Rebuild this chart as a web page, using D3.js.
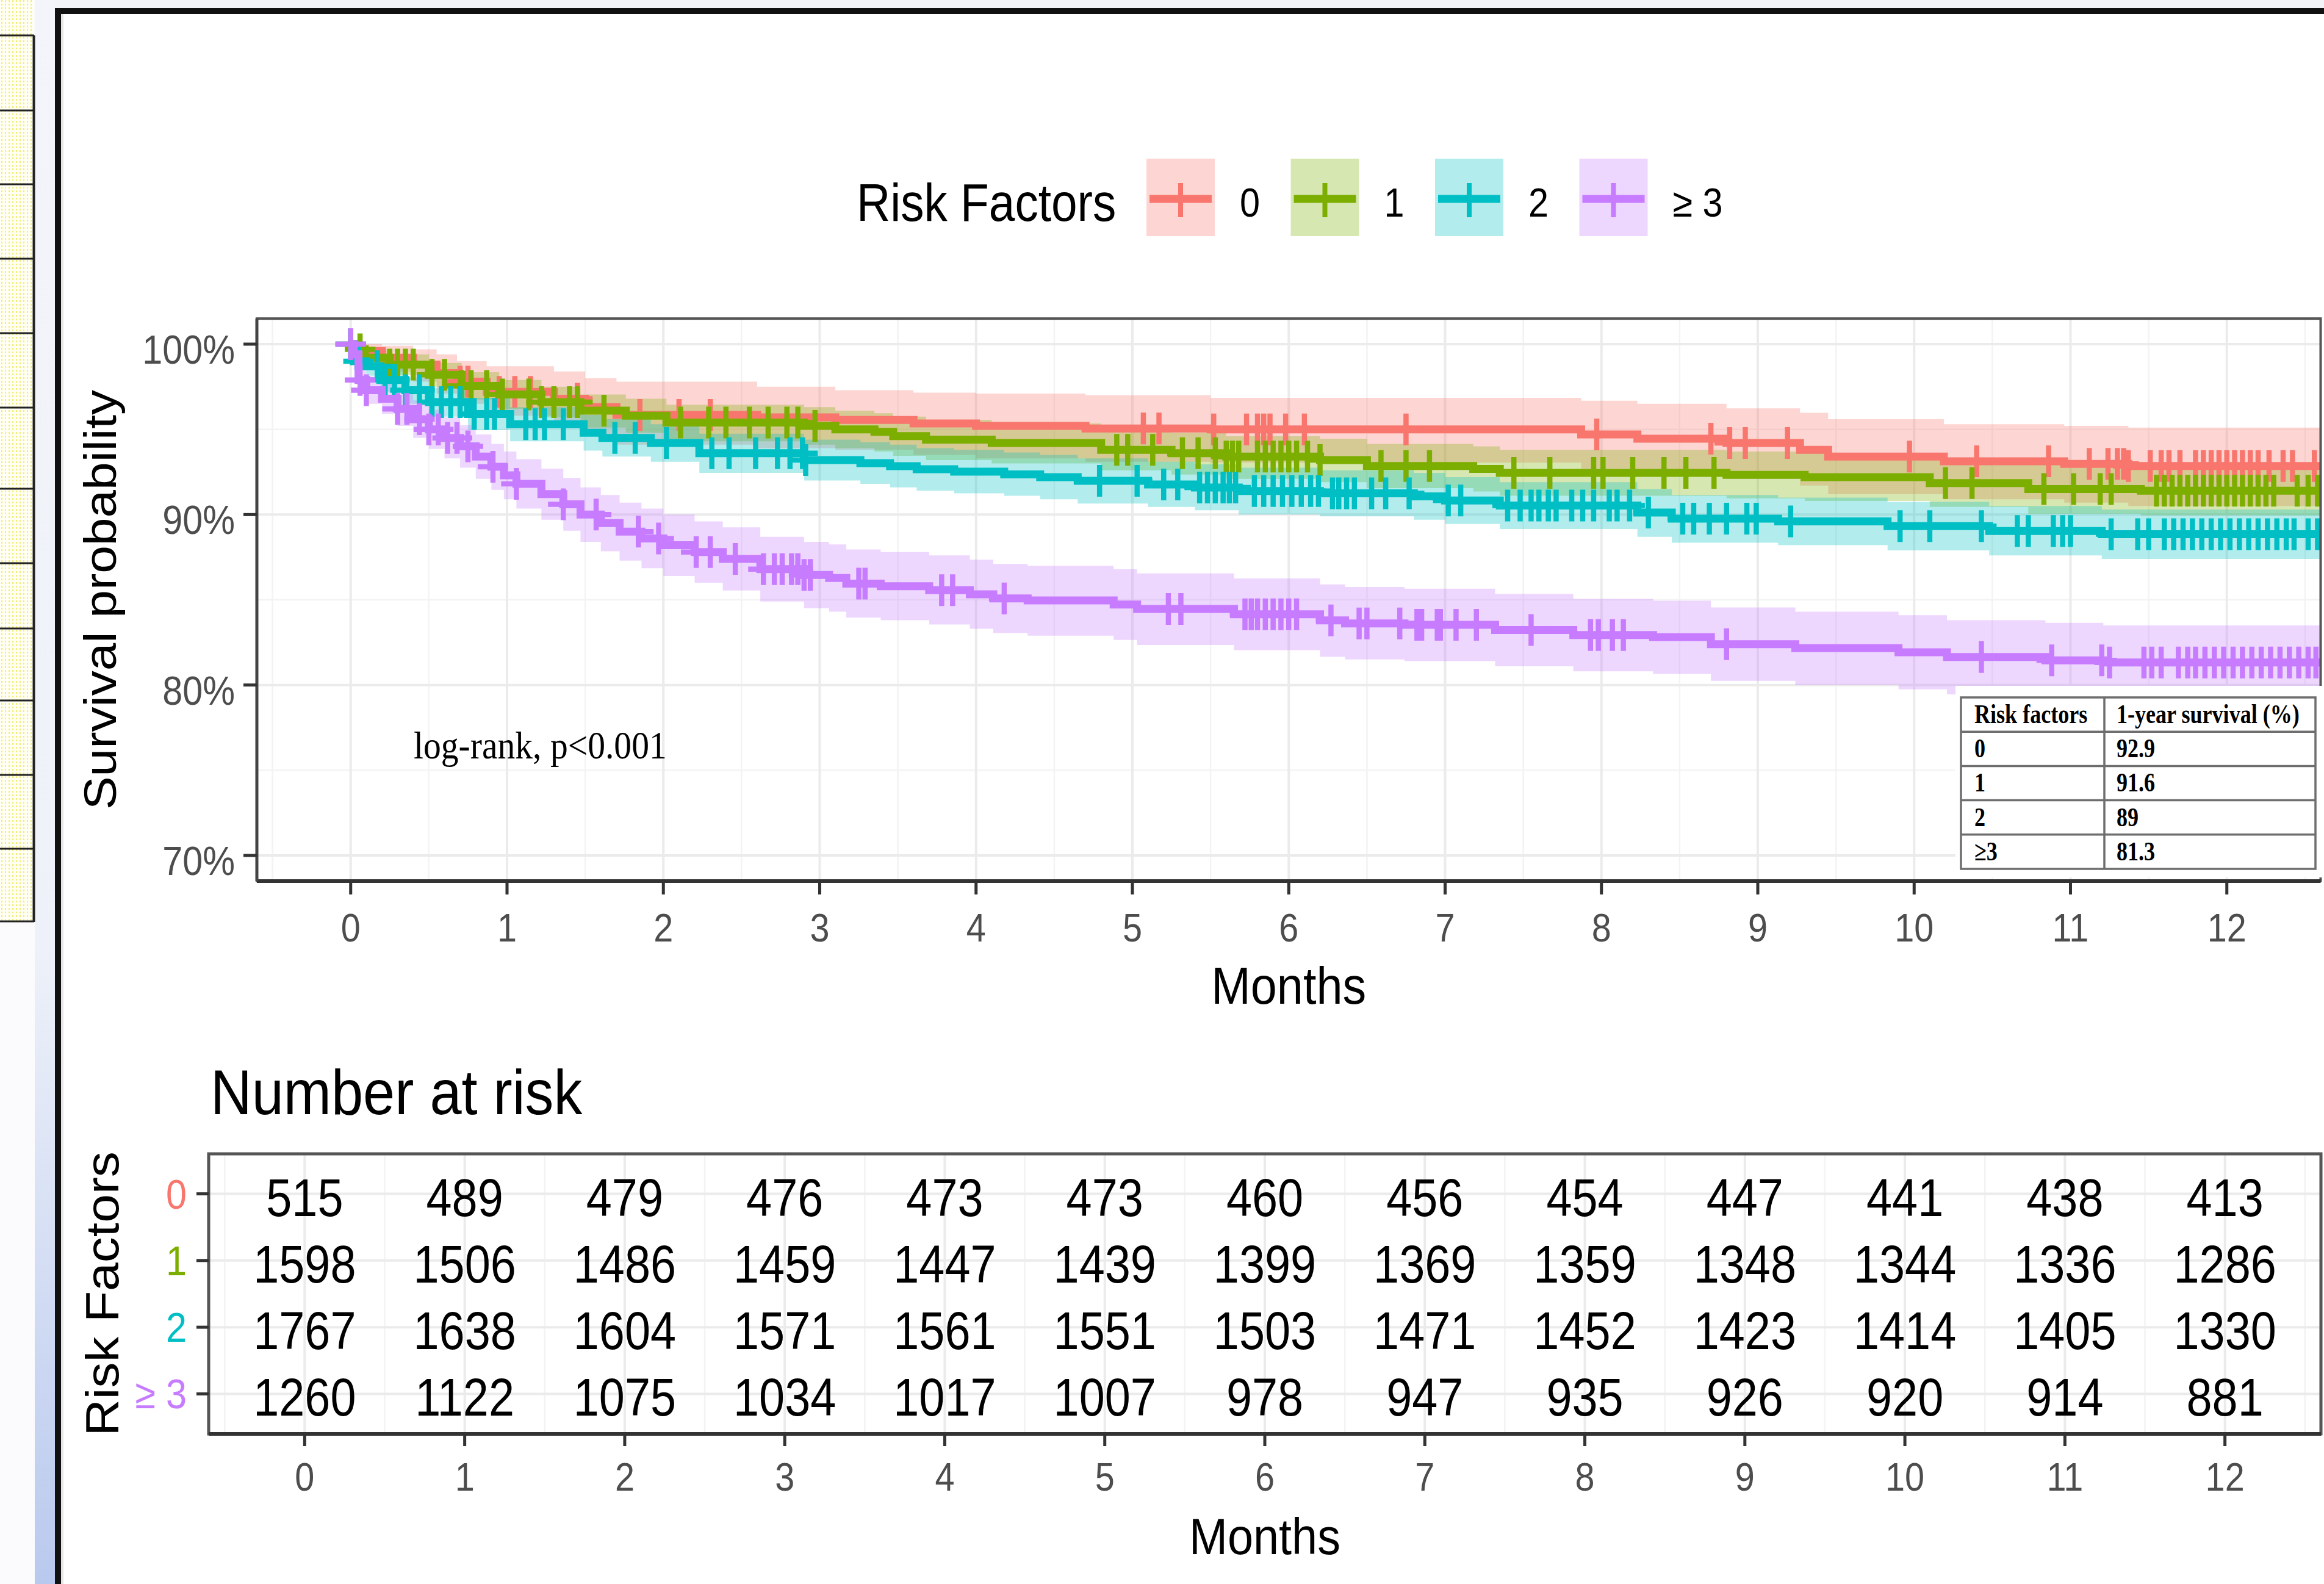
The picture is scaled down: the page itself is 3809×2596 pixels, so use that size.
<!DOCTYPE html>
<html>
<head>
<meta charset="utf-8">
<script src="https://cdn.jsdelivr.net/npm/d3@7"></script>
<style>
  body { margin: 0; background: #fff; }
  svg { display: block; }
</style>
</head>
<body>
<div id="chart"></div>
<script>
// groups and colours
var groups = ["0", "1", "2", "\u2265 3"];
var colors = ["#F8766D", "#7CAE00", "#00BFC4", "#C77CFF"];
var monthTicks = [0, 1, 2, 3, 4, 5, 6, 7, 8, 9, 10, 11, 12];
var survTicks = [70, 80, 90, 100];
var endTime = 12.6;

// KM steps: [month, survival %, lower CI, upper CI]
var km0 = [[0,100,100,100],[0.05,99.6,99.0,100],[0.2,99.2,98.4,99.9],[0.4,98.8,97.8,99.7],[0.55,98.3,97.1,99.4],
  [0.68,97.8,96.5,99.0],[0.87,97.2,95.8,98.7],[1.3,96.8,95.3,98.4],[1.5,96.3,94.7,98.0],[1.7,95.85,94.1,97.8],
  [2.6,95.7,93.9,97.5],[3.1,95.55,93.8,97.3],[3.6,95.35,93.5,97.15],[4.0,95.2,93.3,97.1],[4.7,95.05,93.1,97.0],
  [5.5,95.0,93.05,96.85],[7.87,94.7,92.7,96.68],[8.23,94.45,92.4,96.5],[8.8,94.2,92.1,96.23],[9.27,93.8,91.7,95.97],
  [9.45,93.4,91.2,95.6],[10.19,93.13,90.9,95.3],[10.96,92.97,90.7,95.2],[11.37,92.85,90.5,95.1]];
var km1 = [[0,100,100,100],[0.03,99.7,99.4,100],[0.09,99.2,98.7,99.7],[0.25,98.8,98.2,99.4],[0.5,98.2,97.5,98.9],
  [0.71,97.55,96.75,98.35],[0.95,97.05,96.2,97.9],[1.22,96.6,95.7,97.5],[1.47,96.1,95.1,97.05],[1.76,95.8,94.8,96.8],
  [2.02,95.4,94.3,96.45],[2.9,95.2,94.1,96.3],[3.1,95.0,93.9,96.1],[3.35,94.85,93.7,95.95],[3.47,94.6,93.45,95.75],
  [3.68,94.4,93.2,95.55],[4.1,94.2,93.0,95.35],[4.8,93.8,92.6,95.0],[5.25,93.6,92.35,94.8],[5.6,93.4,92.1,94.6],
  [6.2,93.2,91.9,94.45],[6.5,92.85,91.55,94.15],[7.18,92.68,91.35,94.0],[7.35,92.45,91.1,93.8],[8.8,92.33,90.95,93.7],
  [9.3,92.2,90.8,93.6],[10.1,91.85,90.45,93.25],[10.73,91.5,90.05,92.95],[11.45,91.4,89.95,92.85]];
var km2 = [[0,100,100,100],[0.02,99.0,98.5,99.5],[0.1,98.7,98.15,99.25],[0.19,97.9,97.2,98.6],[0.35,97.3,96.5,98.05],
  [0.5,96.6,95.75,97.45],[0.75,95.9,94.95,96.85],[1.02,95.3,94.3,96.3],[1.49,94.8,93.75,95.85],[1.61,94.5,93.4,95.6],
  [1.92,94.2,93.1,95.3],[2.23,93.6,92.45,94.75],[2.9,93.2,92.0,94.4],[3.26,93.02,91.8,94.25],[3.45,92.84,91.6,94.1],
  [3.62,92.66,91.4,93.9],[3.86,92.52,91.25,93.8],[4.18,92.36,91.1,93.65],[4.41,92.2,90.9,93.5],[4.65,91.98,90.65,93.3],
  [5.1,91.77,90.45,93.1],[5.4,91.59,90.25,92.95],[5.68,91.38,90.0,92.75],[6.2,91.25,89.9,92.6],[6.8,91.07,89.7,92.45],
  [7.0,90.83,89.45,92.2],[7.35,90.53,89.15,91.9],[8.23,90.12,88.7,91.5],[8.45,89.76,88.35,91.15],[9.13,89.6,88.2,91.0],
  [9.83,89.32,87.9,90.75],[10.48,89.04,87.6,90.5],[11.2,88.85,87.4,90.3]];
var km3 = [[0,100,100,100],[0.02,99.4,99.0,99.8],[0.05,97.9,97.2,98.6],[0.1,97.3,96.5,98.1],[0.2,96.8,95.9,97.7],
  [0.3,96.2,95.2,97.2],[0.4,95.6,94.5,96.7],[0.5,95.0,93.85,96.15],[0.6,94.5,93.3,95.7],[0.7,94.0,92.75,95.25],
  [0.8,93.4,92.1,94.7],[0.9,92.8,91.45,94.15],[0.98,92.3,90.9,93.7],[1.06,91.8,90.35,93.25],[1.22,91.2,89.7,92.7],
  [1.36,90.6,89.05,92.15],[1.47,90.0,88.4,91.6],[1.6,89.5,87.85,91.15],[1.72,89.0,87.3,90.7],[1.86,88.6,86.85,90.35],
  [2.0,88.2,86.4,90.0],[2.2,87.8,86.0,89.6],[2.38,87.4,85.55,89.25],[2.62,86.8,84.9,88.7],
  [2.9,86.46,84.5,88.4],[3.06,86.28,84.3,88.25],[3.17,85.95,83.95,87.95],[3.39,85.8,83.8,87.8],[3.7,85.56,83.55,87.6],
  [3.96,85.32,83.3,87.35],[4.11,85.08,83.05,87.1],[4.33,84.96,82.9,87.0],[4.88,84.72,82.65,86.8],[5.03,84.46,82.35,86.55],
  [5.65,84.15,82.05,86.25],[6.2,83.79,81.65,85.9],[6.36,83.61,81.5,85.75],[6.74,83.53,81.4,85.65],[7.32,83.23,81.1,85.35],
  [7.82,82.93,80.8,85.05],[8.33,82.81,80.65,84.95],[8.7,82.4,80.25,84.55],[9.24,82.16,80.0,84.3],[9.9,81.92,79.75,84.1],
  [10.21,81.64,79.45,83.8],[10.84,81.45,79.25,83.65],[11.21,81.32,79.1,83.5]];

// censoring times (months)
var cens0 = [0.7,0.75,0.95,1.05,1.15,1.45,1.85,2.1,2.3,5.07,5.17,5.52,5.73,5.8,5.84,5.88,5.98,6.1,6.75,7.97,8.7,8.82,
  8.92,9.19,9.97,10.4,10.86,11.12,11.24,11.3,11.34,11.37,11.51,11.58,11.63,11.7,11.8,11.85,11.9,11.95,12.0,12.05,
  12.1,12.15,12.2,12.27,12.36,12.42,12.56];
var cens1 = [0.0,0.06,0.25,0.3,0.35,0.4,0.52,0.6,0.71,0.77,0.87,0.97,1.14,1.22,1.3,1.4,1.45,1.62,2.11,2.29,2.4,2.55,
  2.67,2.79,2.86,2.97,4.9,4.97,5.13,5.32,5.42,5.53,5.6,5.64,5.68,5.8,5.85,5.9,5.95,6.0,6.05,6.12,6.2,6.59,6.75,6.9,
  7.44,7.67,7.95,8.01,8.2,8.4,8.54,8.72,10.2,10.37,10.83,11.02,11.19,11.26,11.55,11.6,11.65,11.7,11.75,11.8,11.85,
  11.9,11.95,12.0,12.05,12.1,12.15,12.2,12.25,12.3,12.45,12.52,12.58];
var cens2 = [0.0,0.05,0.17,0.22,0.28,0.35,0.44,0.52,0.58,0.64,0.7,0.79,0.87,0.92,1.12,1.18,1.24,1.36,1.69,1.82,2.02,
  2.31,2.42,2.59,2.73,2.81,2.89,2.91,4.79,5.03,5.2,5.29,5.43,5.48,5.53,5.58,5.62,5.66,5.78,5.84,5.9,5.96,6.02,6.08,
  6.14,6.19,6.28,6.32,6.37,6.42,6.53,6.62,6.77,7.02,7.1,7.4,7.48,7.55,7.6,7.66,7.71,7.81,7.88,7.95,8.05,8.1,8.18,8.3,
  8.52,8.59,8.69,8.8,8.93,8.99,9.21,9.91,10.1,10.43,10.66,10.73,10.89,10.95,11.0,11.26,11.43,11.5,11.6,11.66,11.72,
  11.78,11.84,11.9,11.96,12.02,12.08,12.14,12.2,12.26,12.32,12.38,12.43,12.52,12.58];
var cens3 = [0.0,0.06,0.1,0.3,0.36,0.44,0.5,0.56,0.62,0.68,0.75,0.91,1.06,1.36,1.57,1.84,1.97,2.21,2.3,2.46,2.64,2.71,
  2.76,2.82,2.86,2.9,2.94,3.25,3.29,3.78,3.85,4.18,5.23,5.31,5.72,5.76,5.8,5.85,5.9,5.95,6.0,6.05,6.27,6.45,6.5,6.71,
  6.82,6.85,6.95,6.97,7.07,7.2,7.55,7.93,7.98,8.07,8.14,8.8,10.43,10.88,11.2,11.25,11.47,11.52,11.58,11.69,11.75,
  11.8,11.86,11.92,11.98,12.04,12.1,12.16,12.22,12.28,12.34,12.4,12.46,12.52,12.57];

// number at risk
var riskTimes = [0, 1, 2, 3, 4, 5, 6, 7, 8, 9, 10, 11, 12];
var risk0 = [515, 489, 479, 476, 473, 473, 460, 456, 454, 447, 441, 438, 413];
var risk1 = [1598, 1506, 1486, 1459, 1447, 1439, 1399, 1369, 1359, 1348, 1344, 1336, 1286];
var risk2 = [1767, 1638, 1604, 1571, 1561, 1551, 1503, 1471, 1452, 1423, 1414, 1405, 1330];
var risk3 = [1260, 1122, 1075, 1034, 1017, 1007, 978, 947, 935, 926, 920, 914, 881];

// inset table
var tableHead = ["Risk factors", "1-year survival (%)"];
var tableGroups = ["0", "1", "2", "\u22653"];
var oneYear = ["92.9", "91.6", "89", "81.3"];

var kms = [km0, km1, km2, km3];
var cens = [cens0, cens1, cens2, cens3];
var risks = [risk0, risk1, risk2, risk3];

var sans = "'Liberation Sans', Arial, sans-serif";
var serif = "'Liberation Serif', 'Times New Roman', serif";
var W = 3809, H = 2596;

var svg = d3.select("#chart").append("svg")
  .attr("width", W)
  .attr("height", H);

function label(g, x, y, s, size, o) {
  o = o || {};
  return g.append("text")
    .attr("transform", "translate(" + x + "," + y + ") scale(" + (o.sx || 0.9) + ",1)" + (o.rot ? " rotate(" + o.rot + ")" : ""))
    .attr("text-anchor", o.anchor || "start")
    .attr("font-family", o.family || sans)
    .attr("font-size", size)
    .attr("font-weight", o.weight || "normal")
    .attr("fill", o.fill || "#000")
    .text(s);
}

// ---- screenshot frame on the left ----
var defs = svg.append("defs");
var pat = defs.append("pattern").attr("id", "dots")
  .attr("width", 6).attr("height", 6).attr("patternUnits", "userSpaceOnUse");
pat.append("rect").attr("width", 6).attr("height", 6).attr("fill", "#fffff4");
pat.append("rect").attr("x", 2).attr("width", 2).attr("height", 3).attr("fill", "#f3ec7a");
var grad = defs.append("linearGradient").attr("id", "strip").attr("x1", 0).attr("y1", 0).attr("x2", 0).attr("y2", 1);
grad.append("stop").attr("offset", "0%").attr("stop-color", "#f4f5fa");
grad.append("stop").attr("offset", "60%").attr("stop-color", "#eef1f9");
grad.append("stop").attr("offset", "100%").attr("stop-color", "#b9c9ee");

svg.append("rect").attr("x", 0).attr("y", 0).attr("width", 90).attr("height", H).attr("fill", "#fbfbfd");
svg.append("rect").attr("x", 0).attr("y", 0).attr("width", 55).attr("height", 1511).attr("fill", "url(#dots)");
svg.append("rect").attr("x", 57).attr("y", 0).attr("width", 33).attr("height", H).attr("fill", "url(#strip)");
[58, 181, 302, 424, 546, 668, 801, 923, 1030, 1148, 1270, 1391, 1510].forEach(function(y) {
  svg.append("line").attr("x1", 0).attr("x2", 56).attr("y1", y).attr("y2", y)
    .attr("stroke", "#222").attr("stroke-width", 3);
});
svg.append("line").attr("x1", 55.5).attr("x2", 55.5).attr("y1", 58).attr("y2", 1511)
  .attr("stroke", "#222").attr("stroke-width", 4);
svg.append("rect").attr("x", 90).attr("y", 0).attr("width", W - 90).attr("height", 13).attr("fill", "#f3f4f8");
svg.append("rect").attr("x", 90).attr("y", 13).attr("width", W - 90).attr("height", 10).attr("fill", "#111");
svg.append("rect").attr("x", 90).attr("y", 13).attr("width", 10).attr("height", H - 13).attr("fill", "#111");
svg.append("rect").attr("x", 100).attr("y", 23).attr("width", 4).attr("height", H - 23).attr("fill", "#e6e6e6");

// ---- legend ----
label(svg, 1404, 362, "Risk Factors", 88, {sx: 0.87});
groups.forEach(function(gname, i) {
  var kx = 1879 + i * 236.5;
  svg.append("rect").attr("x", kx).attr("y", 260).attr("width", 112).attr("height", 127)
    .attr("fill", colors[i]).attr("fill-opacity", 0.3);
  svg.append("line").attr("x1", kx + 5).attr("x2", kx + 107).attr("y1", 326).attr("y2", 326)
    .attr("stroke", colors[i]).attr("stroke-width", 13);
  svg.append("line").attr("x1", kx + 56).attr("x2", kx + 56).attr("y1", 300).attr("y2", 356)
    .attr("stroke", colors[i]).attr("stroke-width", 8);
  label(svg, kx + 153, 355, gname, 66);
});

// ---- survival plot ----
var x = d3.scaleLinear().domain([-0.6, 12.6]).range([421, 3803.5]);
var y = d3.scaleLinear().domain([68.5, 101.5]).range([1443.9, 522.1]);

var plot = svg.append("g");
defs.append("clipPath").attr("id", "panel").append("rect")
  .attr("x", x(-0.6)).attr("y", y(101.5)).attr("width", x(12.6) - x(-0.6)).attr("height", y(68.5) - y(101.5));

plot.append("rect")
  .attr("x", x(-0.6)).attr("y", y(101.5))
  .attr("width", x(12.6) - x(-0.6)).attr("height", y(68.5) - y(101.5))
  .attr("fill", "#fff");

// grid
var grid = plot.append("g");
d3.range(-0.5, 12.6, 1).forEach(function(m) {
  grid.append("line").attr("x1", x(m)).attr("x2", x(m)).attr("y1", y(101.5)).attr("y2", y(68.5))
    .attr("stroke", "#f3f3f3").attr("stroke-width", 2.5);
});
[75, 85, 95].forEach(function(v) {
  grid.append("line").attr("x1", x(-0.6)).attr("x2", x(12.6)).attr("y1", y(v)).attr("y2", y(v))
    .attr("stroke", "#f3f3f3").attr("stroke-width", 2.5);
});
monthTicks.forEach(function(m) {
  grid.append("line").attr("x1", x(m)).attr("x2", x(m)).attr("y1", y(101.5)).attr("y2", y(68.5))
    .attr("stroke", "#ebebeb").attr("stroke-width", 4);
});
survTicks.forEach(function(v) {
  grid.append("line").attr("x1", x(-0.6)).attr("x2", x(12.6)).attr("y1", y(v)).attr("y2", y(v))
    .attr("stroke", "#ebebeb").attr("stroke-width", 4);
});

var curves = plot.append("g").attr("clip-path", "url(#panel)");
var area = d3.area()
  .x(function(d) { return x(d[0]); })
  .y0(function(d) { return y(d[2]); })
  .y1(function(d) { return y(d[3]); })
  .curve(d3.curveStepAfter);
var line = d3.line()
  .x(function(d) { return x(d[0]); })
  .y(function(d) { return y(d[1]); })
  .curve(d3.curveStepAfter);

function withEnd(km) {
  var last = km[km.length - 1];
  return km.concat([[endTime, last[1], last[2], last[3]]]);
}
function survAt(km, t) {
  var v = km[0][1];
  km.forEach(function(d) { if (d[0] <= t) v = d[1]; });
  return v;
}

kms.forEach(function(km, i) {
  curves.append("path").datum(withEnd(km))
    .attr("d", area)
    .attr("fill", colors[i]).attr("fill-opacity", 0.3);
});
kms.forEach(function(km, i) {
  curves.append("path").datum(withEnd(km))
    .attr("d", line)
    .attr("fill", "none").attr("stroke", colors[i]).attr("stroke-width", 13);
  curves.selectAll(null)
    .data(cens[i])
    .enter()
    .append("path")
    .attr("d", function(t) {
      var cx = x(t), cy = y(survAt(km, t));
      return "M" + (cx - 25) + "," + cy + "H" + (cx + 25) + "M" + cx + "," + (cy - 26) + "V" + (cy + 26);
    })
    .attr("stroke", colors[i]).attr("stroke-width", 8.5).attr("fill", "none");
});

// panel border
plot.append("rect")
  .attr("x", x(-0.6)).attr("y", y(101.5))
  .attr("width", x(12.6) - x(-0.6)).attr("height", y(68.5) - y(101.5))
  .attr("fill", "none").attr("stroke", "#555").attr("stroke-width", 4);

label(plot, 678, 1243, "log-rank, p<0.001", 64, {family: serif, sx: 0.9});

// inset table of 1-year survival
var tb = plot.append("g");
tb.append("rect").attr("x", 3205).attr("y", 1124).attr("width", W - 3205).attr("height", 1438 - 1124).attr("fill", "#fff");
var tRow = 56.2, tTop = 1143, tLeft = 3214, tMid = 3449, tRight = 3795;
for (var r = 1; r < 5; r++) {
  tb.append("line").attr("x1", tLeft).attr("x2", tRight).attr("y1", tTop + r * tRow).attr("y2", tTop + r * tRow)
    .attr("stroke", "#6e6e6e").attr("stroke-width", 3.5);
}
tb.append("line").attr("x1", tMid).attr("x2", tMid).attr("y1", tTop).attr("y2", tTop + 5 * tRow)
  .attr("stroke", "#6e6e6e").attr("stroke-width", 3.5);
tb.append("rect").attr("x", tLeft).attr("y", tTop).attr("width", tRight - tLeft).attr("height", 5 * tRow)
  .attr("fill", "none").attr("stroke", "#6e6e6e").attr("stroke-width", 3.5);
label(tb, tLeft + 22, tTop + 42, tableHead[0], 44, {family: serif, weight: "bold", sx: 0.82});
label(tb, tMid + 20, tTop + 42, tableHead[1], 44, {family: serif, weight: "bold", sx: 0.82});
tableGroups.forEach(function(gname, i) {
  label(tb, tLeft + 22, tTop + (i + 1) * tRow + 42, gname, 44, {family: serif, weight: "bold", sx: 0.82});
  label(tb, tMid + 20, tTop + (i + 1) * tRow + 42, oneYear[i], 44, {family: serif, weight: "bold", sx: 0.82});
});

// axes lines and ticks
plot.append("line").attr("x1", x(-0.6)).attr("x2", x(12.6)).attr("y1", y(68.5)).attr("y2", y(68.5))
  .attr("stroke", "#333").attr("stroke-width", 6);
plot.append("line").attr("x1", x(-0.6)).attr("x2", x(-0.6)).attr("y1", y(101.5)).attr("y2", y(68.5))
  .attr("stroke", "#444").attr("stroke-width", 5);
survTicks.forEach(function(v) {
  plot.append("line").attr("x1", x(-0.6) - 22).attr("x2", x(-0.6)).attr("y1", y(v)).attr("y2", y(v))
    .attr("stroke", "#333").attr("stroke-width", 5);
  label(plot, 385, y(v) + 32, v + "%", 66, {anchor: "end", fill: "#4d4d4d"});
});
monthTicks.forEach(function(m) {
  plot.append("line").attr("x1", x(m)).attr("x2", x(m)).attr("y1", y(68.5)).attr("y2", y(68.5) + 22)
    .attr("stroke", "#333").attr("stroke-width", 5);
  label(plot, x(m), 1543, m, 64, {anchor: "middle", fill: "#4d4d4d"});
});
label(plot, (x(-0.6) + x(12.6)) / 2, 1645, "Months", 86, {anchor: "middle"});
label(plot, 190, (y(68.5) + y(101.5)) / 2, "Survival probability", 82, {anchor: "middle", rot: -90});

// ---- number at risk table ----
var xr = d3.scaleLinear().domain([-0.6, 12.6]).range([342, 3804]);
var yr = d3.scalePoint().domain(groups).range([1891, 2350]).padding(0.6);
var rt = svg.append("g");

label(rt, 345, 1826, "Number at risk", 103, {sx: 0.91});

rt.append("rect").attr("x", 342).attr("y", 1891).attr("width", 3804 - 342).attr("height", 2350 - 1891).attr("fill", "#fff");
d3.range(-0.5, 12.6, 1).forEach(function(m) {
  rt.append("line").attr("x1", xr(m)).attr("x2", xr(m)).attr("y1", 1891).attr("y2", 2350)
    .attr("stroke", "#f3f3f3").attr("stroke-width", 2.5);
});
riskTimes.forEach(function(m) {
  rt.append("line").attr("x1", xr(m)).attr("x2", xr(m)).attr("y1", 1891).attr("y2", 2350)
    .attr("stroke", "#ebebeb").attr("stroke-width", 4);
});
groups.forEach(function(gname) {
  rt.append("line").attr("x1", 342).attr("x2", 3804).attr("y1", yr(gname)).attr("y2", yr(gname))
    .attr("stroke", "#ebebeb").attr("stroke-width", 4);
});

risks.forEach(function(row, i) {
  rt.selectAll(null)
    .data(row)
    .enter()
    .append("text")
    .attr("transform", function(d, j) { return "translate(" + xr(riskTimes[j]) + "," + (yr(groups[i]) + 36) + ") scale(0.86,1)"; })
    .attr("text-anchor", "middle")
    .attr("font-family", sans)
    .attr("font-size", 88)
    .attr("fill", "#000")
    .text(function(d) { return d; });
});

rt.append("rect").attr("x", 342).attr("y", 1891).attr("width", 3804 - 342).attr("height", 2350 - 1891)
  .attr("fill", "none").attr("stroke", "#555").attr("stroke-width", 5);
rt.append("line").attr("x1", 342).attr("x2", 3804).attr("y1", 2350).attr("y2", 2350)
  .attr("stroke", "#333").attr("stroke-width", 6);

groups.forEach(function(gname, i) {
  rt.append("line").attr("x1", 322).attr("x2", 342).attr("y1", yr(gname)).attr("y2", yr(gname))
    .attr("stroke", "#333").attr("stroke-width", 5);
  label(rt, 306, yr(gname) + 24, gname, 68, {anchor: "end", fill: colors[i]});
});
riskTimes.forEach(function(m) {
  rt.append("line").attr("x1", xr(m)).attr("x2", xr(m)).attr("y1", 2350).attr("y2", 2370)
    .attr("stroke", "#333").attr("stroke-width", 5);
  label(rt, xr(m), 2443, m, 64, {anchor: "middle", fill: "#4d4d4d"});
});
label(rt, (342 + 3804) / 2, 2547, "Months", 84, {anchor: "middle"});
label(rt, 194, (1891 + 2350) / 2, "Risk Factors", 84, {anchor: "middle", rot: -90});
</script>
</body>
</html>
